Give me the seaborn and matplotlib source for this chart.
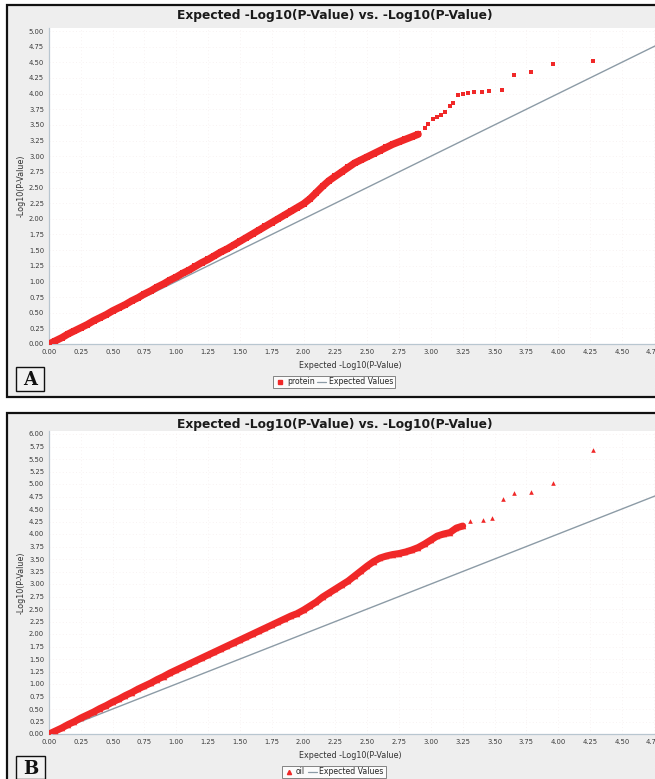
import matplotlib
matplotlib.use("Agg")
import matplotlib.pyplot as plt
from matplotlib.patches import Rectangle
from matplotlib.lines import Line2D
import seaborn as sns
import pandas as pd

# ---------------- data ----------------
# Panel A (protein): expected vs observed -log10(p)
a_expected = [0.00, 0.05, 0.10, 0.15, 0.20, 0.25, 0.30, 0.35, 0.40, 0.45,
              0.50, 0.55, 0.60, 0.65, 0.70, 0.75, 0.80, 0.85, 0.90, 0.95,
              1.00, 1.05, 1.10, 1.15, 1.20, 1.25, 1.30, 1.35, 1.40, 1.45,
              1.50, 1.55, 1.60, 1.65, 1.70, 1.75, 1.80, 1.85, 1.90, 1.95,
              2.00, 2.05, 2.10, 2.15, 2.20, 2.25, 2.30, 2.35, 2.40, 2.45,
              2.50, 2.55, 2.60, 2.65, 2.70, 2.75, 2.80, 2.85, 2.90]
a_observed = [0.00, 0.05, 0.10, 0.16, 0.21, 0.26, 0.31, 0.37, 0.42, 0.47,
              0.53, 0.58, 0.63, 0.69, 0.74, 0.80, 0.85, 0.91, 0.96, 1.02,
              1.07, 1.13, 1.18, 1.24, 1.30, 1.35, 1.41, 1.47, 1.52, 1.58,
              1.64, 1.70, 1.76, 1.82, 1.88, 1.94, 2.00, 2.06, 2.12, 2.18,
              2.24, 2.32, 2.42, 2.52, 2.61, 2.68, 2.75, 2.82, 2.89, 2.94,
              2.99, 3.04, 3.09, 3.14, 3.19, 3.23, 3.27, 3.31, 3.35]
a_tail_expected = [2.95, 2.98, 3.02, 3.05, 3.08, 3.11, 3.15, 3.17, 3.21, 3.25,
                   3.29, 3.34, 3.40, 3.46, 3.56, 3.65, 3.79, 3.96, 4.27]
a_tail_observed = [3.45, 3.52, 3.60, 3.63, 3.66, 3.71, 3.80, 3.85, 3.97, 4.00,
                   4.01, 4.02, 4.03, 4.04, 4.06, 4.30, 4.35, 4.47, 4.52]

# Panel B (oil)
b_expected = [0.00, 0.05, 0.10, 0.15, 0.20, 0.25, 0.30, 0.35, 0.40, 0.45,
              0.50, 0.55, 0.60, 0.65, 0.70, 0.75, 0.80, 0.85, 0.90, 0.95,
              1.00, 1.05, 1.10, 1.15, 1.20, 1.25, 1.30, 1.35, 1.40, 1.45,
              1.50, 1.55, 1.60, 1.65, 1.70, 1.75, 1.80, 1.85, 1.90, 1.95,
              2.00, 2.05, 2.10, 2.15, 2.20, 2.25, 2.30, 2.35, 2.40, 2.45,
              2.50, 2.55, 2.60, 2.65, 2.70, 2.75, 2.80, 2.85, 2.90, 2.95,
              3.00, 3.05, 3.10, 3.15, 3.20, 3.25]
b_observed = [0.00, 0.06, 0.12, 0.19, 0.25, 0.32, 0.38, 0.44, 0.51, 0.57,
              0.64, 0.70, 0.77, 0.83, 0.90, 0.96, 1.02, 1.09, 1.15, 1.22,
              1.28, 1.34, 1.40, 1.46, 1.52, 1.58, 1.64, 1.70, 1.76, 1.82,
              1.88, 1.94, 2.00, 2.06, 2.12, 2.18, 2.24, 2.30, 2.36, 2.41,
              2.48, 2.56, 2.64, 2.74, 2.82, 2.90, 2.98, 3.06, 3.16, 3.26,
              3.36, 3.45, 3.52, 3.56, 3.59, 3.61, 3.64, 3.68, 3.73, 3.80,
              3.88, 3.96, 4.00, 4.03, 4.12, 4.16]
b_tail_expected = [3.31, 3.41, 3.48, 3.57, 3.65, 3.79, 3.96, 4.27]
b_tail_observed = [4.26, 4.28, 4.32, 4.70, 4.82, 4.84, 5.02, 5.68]

expected_line = [0.0, 6.5]

x_ticks = [0.00, 0.25, 0.50, 0.75, 1.00, 1.25, 1.50, 1.75, 2.00, 2.25, 2.50,
           2.75, 3.00, 3.25, 3.50, 3.75, 4.00, 4.25, 4.50, 4.75]
a_y_ticks = [i * 0.25 for i in range(21)]
b_y_ticks = [i * 0.25 for i in range(25)]

title = "Expected -Log10(P-Value) vs. -Log10(P-Value)"
x_label = "Expected -Log10(P-Value)"
y_label = "-Log10(P-Value)"

# ---------------- styling ----------------
sns.set_theme(style="white")
plt.rcParams['font.family'] = ['DejaVu Sans']

RED = "#f02828"
GRAY_LINE = "#8c9ba6"
PANEL_BG = "#eeeeee"
AXIS_COL = "#b8c6d0"
TICK_COL = "#3a3a3a"

W, H = 655, 779
fig = plt.figure(figsize=(W / 100, H / 100), dpi=100)
fig.patch.set_facecolor("white")


def fig_rect(x0, y0, x1, y1):
    return [x0 / W, 1 - y1 / H, (x1 - x0) / W, (y1 - y0) / H]


def add_frame(x0, y0, x1, y1):
    r = fig_rect(x0, y0, x1, y1)
    fig.patches.append(Rectangle((r[0], r[1]), r[2], r[3], transform=fig.transFigure,
                                 facecolor=PANEL_BG, edgecolor="#111111", lw=1.6,
                                 zorder=-5))


def draw_panel(top, exp_d, obs_d, exp_t, obs_t, yticks, ymax, marker, series_name, letter,
               frame, legend_y, letter_box, band_lw):
    add_frame(*frame)
    fx0, fy0, fx1, fy1 = frame
    # title
    fig.text(335 / W, 1 - (fy0 + 11) / H, title, ha="center", va="center",
             fontsize=8.8, fontweight="bold", color="#1a1a1a")
    x0, y0, x1, y1 = 49, top, 656, top + ymax[1]
    ax = fig.add_axes(fig_rect(x0, y0, x1, y1))
    ax.set_zorder(2)
    ax.set_facecolor("white")
    dense = pd.DataFrame({"exp": exp_d, "obs": obs_d})
    tail = pd.DataFrame({"exp": exp_t, "obs": obs_t})
    sns.lineplot(x=expected_line, y=expected_line, ax=ax, color=GRAY_LINE, lw=1.0, zorder=2)
    sns.lineplot(data=dense, x="exp", y="obs", ax=ax, color=RED, lw=band_lw, zorder=3,
                 sort=False, estimator=None)
    sns.scatterplot(data=dense, x="exp", y="obs", ax=ax, color=RED, marker=marker, s=16,
                    linewidth=0, zorder=4)
    sns.scatterplot(data=tail, x="exp", y="obs", ax=ax, color=RED, marker=marker, s=11,
                    linewidth=0, zorder=4)
    ax.set_xlim(0, 607 / 127.3)
    ax.set_ylim(0, ymax[0])
    ax.set_xticks(x_ticks)
    ax.set_xticklabels([f"{t:.2f}" for t in x_ticks])
    ax.set_yticks(yticks)
    ax.set_yticklabels([f"{t:.2f}" for t in yticks])
    ax.tick_params(axis="both", labelsize=4.9, colors=TICK_COL, length=2, width=0.6,
                   pad=1.5, direction="out")
    ax.tick_params(axis="both", color=AXIS_COL)
    for s in ["left", "bottom"]:
        ax.spines[s].set_color(AXIS_COL)
        ax.spines[s].set_linewidth(0.9)
    for s in ["top", "right"]:
        ax.spines[s].set_visible(False)
    ax.grid(True, color="#f6eeee", lw=0.6, ls=(0, (1, 3)))
    ax.set_xlabel("")
    ax.set_ylabel("")
    # axis labels
    fig.text(350 / W, 1 - (y1 + 22) / H, x_label, ha="center", va="center",
             fontsize=5.8, color="#333333")
    fig.text(21 / W, 1 - ((y0 + y1) / 2) / H, y_label, ha="center", va="center",
             rotation=90, fontsize=5.8, color="#333333")
    # legend
    handles = [Line2D([], [], color=RED, marker=marker, ls="none", markersize=3.0),
               Line2D([], [], color=GRAY_LINE, lw=0.9)]
    leg = fig.legend(handles, [series_name, "Expected Values"], ncol=2,
                     loc="center", bbox_to_anchor=(334 / W, 1 - legend_y / H),
                     fontsize=5.6, frameon=True, fancybox=False, handlelength=1.2,
                     handletextpad=0.3, columnspacing=0.3, borderpad=0.25,
                     borderaxespad=0)
    leg.get_frame().set_edgecolor("#666666")
    leg.get_frame().set_linewidth(0.7)
    leg.get_frame().set_facecolor("white")
    # panel letter
    lx0, ly0, lx1, ly1 = letter_box
    r = fig_rect(lx0, ly0, lx1, ly1)
    fig.patches.append(Rectangle((r[0], r[1]), r[2], r[3], transform=fig.transFigure,
                                 facecolor="#f2f2f2", edgecolor="#111111", lw=1.0, zorder=1))
    fig.text((lx0 + lx1) / 2 / W, 1 - ((ly0 + ly1) / 2 + 1) / H, letter, ha="center",
             va="center", fontsize=13, fontweight="bold", family="DejaVu Serif",
             color="#111111")
    return ax


# panel A: 62.6 px per unit, top at 28
draw_panel(28, a_expected, a_observed, a_tail_expected, a_tail_observed, a_y_ticks,
           (316 / 62.6, 316), "s", "protein", "A",
           (7, 5, 670, 397), 382, (16, 367, 44, 391), 5.2)

# panel B: 50 px per unit, top at 431
draw_panel(431, b_expected, b_observed, b_tail_expected, b_tail_observed, b_y_ticks,
           (303 / 50, 303), "^", "oil", "B",
           (7, 413, 670, 790), 772, (16, 756, 45, 779), 5.0)

fig.savefig("out.png", dpi=100, facecolor=fig.get_facecolor())
